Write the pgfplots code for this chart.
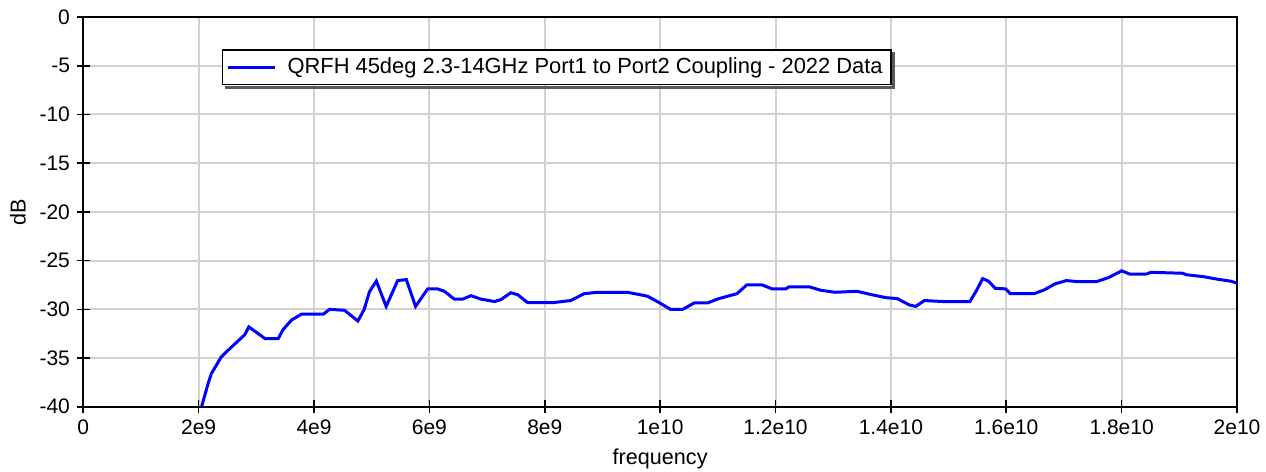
\documentclass[border=0pt]{standalone}
\usepackage{fontspec}
\setmainfont{Liberation Sans}
\usepackage{pgfplots}
\pgfplotsset{compat=1.18}
\usetikzlibrary{calc}

\begin{document}
\begin{tikzpicture}
\begin{axis}[
  name=ax,
  scale only axis,
  width=576.9pt, height=194.9pt,
  xmin=0, xmax=2e10,
  ymin=-40, ymax=0,
  scaled x ticks=false,
  xtick={0,2e9,4e9,6e9,8e9,1e10,1.2e10,1.4e10,1.6e10,1.8e10,2e10},
  xticklabels={0,2e9,4e9,6e9,8e9,1e10,1.2e10,1.4e10,1.6e10,1.8e10,2e10},
  ytick={-40,-35,-30,-25,-20,-15,-10,-5,0},
  yticklabels={-40,-35,-30,-25,-20,-15,-10,-5,0},
  xtick pos=bottom, ytick pos=left,
  tick label style={font=\fontsize{10.5pt}{12pt}\selectfont},
  label style={font=\fontsize{10.8pt}{12pt}\selectfont},
  xlabel={frequency},
  ylabel={dB},
  tick align=center,
  major tick length=6.3pt,
  tick style={black, line width=0.8pt},
  axis line style={line width=0.9pt},
  grid=major,
  grid style={black!18, line width=1pt},
  legend style={name=leg, at={(0.120,0.918)}, anchor=north west, draw=black,
    line width=0.8pt, font=\fontsize{10.95pt}{12pt}\selectfont,
    inner xsep=2pt, inner ysep=2pt},
  legend image code/.code={\draw[#1] (0pt,0pt) -- (23.5pt,0pt);},
  legend cell align=left,
]
\addplot[blue, line width=1.5pt] coordinates {
  (1.90e9,-40.3)(2.00e9,-40.6)(2.05e9,-40.0)(2.16e9,-37.7)(2.22e9,-36.6)
  (2.39e9,-34.9)(2.51e9,-34.2)(2.80e9,-32.6)(2.87e9,-31.8)(3.15e9,-33.0)
  (3.38e9,-33.0)(3.46e9,-32.1)(3.61e9,-31.1)(3.78e9,-30.5)(4.16e9,-30.5)
  (4.27e9,-30.0)(4.53e9,-30.1)(4.76e9,-31.2)(4.87e9,-30.0)(4.96e9,-28.2)
  (5.08e9,-27.1)(5.25e9,-29.7)(5.45e9,-27.05)(5.60e9,-26.95)(5.76e9,-29.7)
  (5.97e9,-27.9)(6.14e9,-27.9)(6.26e9,-28.15)(6.43e9,-28.95)(6.58e9,-28.95)
  (6.72e9,-28.6)(6.89e9,-28.95)(7.13e9,-29.2)(7.24e9,-29.0)(7.41e9,-28.3)
  (7.53e9,-28.5)(7.70e9,-29.3)(8.16e9,-29.3)(8.45e9,-29.1)(8.68e9,-28.4)
  (8.91e9,-28.25)(9.43e9,-28.25)(9.78e9,-28.65)(9.95e9,-29.2)(1.018e10,-30.0)
  (1.039e10,-30.0)(1.059e10,-29.35)(1.082e10,-29.35)(1.099e10,-28.95)(1.117e10,-28.65)
  (1.133e10,-28.4)(1.150e10,-27.5)(1.177e10,-27.5)(1.194e10,-27.9)(1.218e10,-27.9)
  (1.223e10,-27.7)(1.259e10,-27.7)(1.279e10,-28.05)(1.303e10,-28.25)(1.341e10,-28.15)
  (1.367e10,-28.5)(1.391e10,-28.8)(1.411e10,-28.9)(1.432e10,-29.55)(1.443e10,-29.7)
  (1.458e10,-29.1)(1.490e10,-29.2)(1.537e10,-29.2)(1.549e10,-28.0)(1.559e10,-26.85)
  (1.569e10,-27.1)(1.581e10,-27.85)(1.599e10,-27.9)(1.607e10,-28.4)(1.648e10,-28.4)
  (1.666e10,-28.0)(1.684e10,-27.4)(1.704e10,-27.05)(1.722e10,-27.15)(1.757e10,-27.15)
  (1.777e10,-26.75)(1.800e10,-26.05)(1.815e10,-26.4)(1.842e10,-26.4)(1.851e10,-26.2)
  (1.906e10,-26.3)(1.912e10,-26.45)(1.942e10,-26.65)(1.965e10,-26.9)(1.988e10,-27.1)
  (2.000e10,-27.3)
};
\addlegendentry{\hspace{3.5pt}QRFH 45deg 2.3-14GHz Port1 to Port2 Coupling - 2022 Data}
\end{axis}
% legend shadow, bottom and right strips
\fill[black!65] ($(leg.south west)+(1.6pt,-1.6pt)$) rectangle ($(leg.south east)+(1.6pt,-0.4pt)$);
\fill[black!65] ($(leg.north east)+(0.4pt,-1.6pt)$) rectangle ($(leg.south east)+(1.6pt,-1.6pt)$);
\pgfresetboundingbox
\path ($(ax.south west)+(-41.65pt,-32.15pt)$) rectangle ($(ax.north east)+(14.5pt,8.5pt)$);
\end{tikzpicture}
\end{document}
